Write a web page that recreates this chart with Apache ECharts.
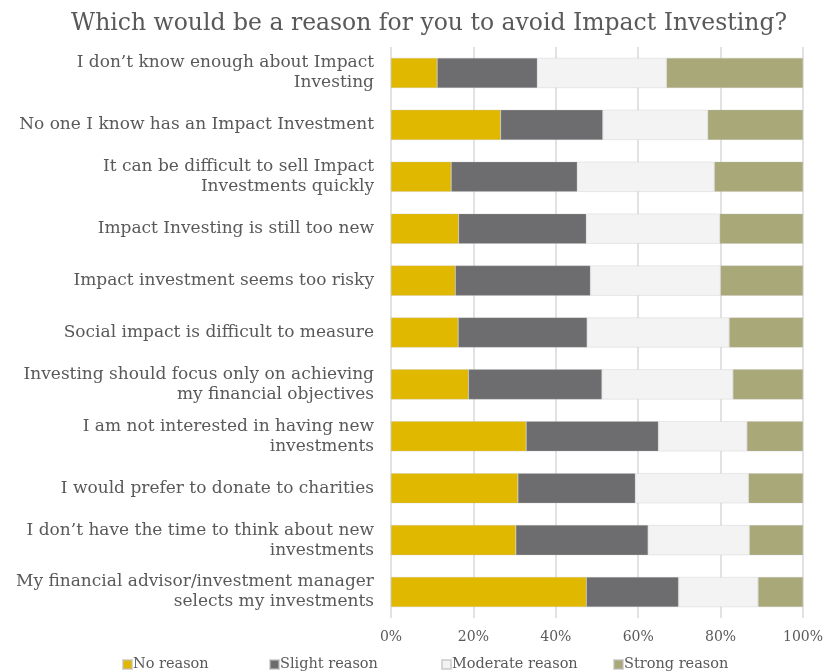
<!DOCTYPE html>
<html>
<head>
<meta charset="utf-8">
<script src="https://cdn.jsdelivr.net/npm/echarts@6/dist/echarts.min.js"></script>
<style>
  html, body { margin: 0; padding: 0; background: #ffffff; }
  #chart { width: 836px; height: 672px; }
</style>
</head>
<body>
<div id="chart"></div>
<script>
// Survey statements (top to bottom)
const categories = [
  'I don\u2019t know enough about Impact\nInvesting',
  'No one I know has an Impact Investment',
  'It can be difficult to sell Impact\nInvestments quickly',
  'Impact Investing is still too new',
  'Impact investment seems too risky',
  'Social impact is difficult to measure',
  'Investing should focus only on achieving\nmy financial objectives',
  'I am not interested in having new\ninvestments',
  'I would prefer to donate to charities',
  'I don\u2019t have the time to think about new\ninvestments',
  'My financial advisor/investment manager\nselects my investments'
];

// Share of respondents (%) per answer
const noReason       = [11.2, 26.6, 14.6, 16.4, 15.6, 16.3, 18.8, 32.8, 30.8, 30.3, 47.4];
const slightReason   = [24.3, 24.8, 30.6, 31.0, 32.8, 31.3, 32.4, 32.1, 28.5, 32.1, 22.4];
const moderateReason = [31.4, 25.5, 33.3, 32.4, 31.6, 34.5, 31.8, 21.5, 27.5, 24.6, 19.3];
const strongReason   = [33.1, 23.1, 21.5, 20.2, 20.0, 17.9, 17.0, 13.6, 13.2, 13.0, 10.9];

const seriesNames = ['No reason', 'Slight reason', 'Moderate reason', 'Strong reason'];
const seriesData = [noReason, slightReason, moderateReason, strongReason];
const colors = ['#E1B800', '#6D6D6F', '#F2F3F2', '#A9A878'];

const FONT = 'DejaVu Serif';
const TEXT = '#595959';

const chart = echarts.init(document.getElementById('chart'), null, { renderer: 'canvas' });

const legendLefts = [117, 264, 436, 608];

chart.setOption({
  animation: false,
  backgroundColor: '#ffffff',
  title: {
    text: 'Which would be a reason for you to avoid Impact Investing?',
    left: 66,
    top: 7,
    textStyle: { fontFamily: FONT, fontSize: 23.5, fontWeight: 'normal', color: TEXT }
  },
  legend: seriesNames.map((n, i) => ({
    data: [n],
    left: legendLefts[i],
    top: 652,
    itemWidth: 9,
    itemHeight: 9,
    itemGap: 0,
    icon: 'rect',
    textStyle: { fontFamily: FONT, fontSize: 14.5, color: TEXT, padding: [0, 0, 0, -4] }
  })),
  grid: { left: 391, right: 33, top: 47, bottom: 54, containLabel: false },
  xAxis: {
    type: 'value',
    min: 0,
    max: 100,
    interval: 20,
    axisLabel: {
      formatter: '{value}%',
      fontFamily: FONT, fontSize: 14, color: TEXT, margin: 12
    },
    axisLine: { show: false },
    axisTick: { show: false },
    splitLine: { show: true, lineStyle: { color: '#D9D9D9', width: 1.5 } }
  },
  yAxis: {
    type: 'category',
    inverse: true,
    data: categories,
    axisLine: { show: false },
    axisTick: { show: false },
    axisLabel: {
      fontFamily: FONT, fontSize: 17, color: TEXT, margin: 17, lineHeight: 20, align: 'right'
    }
  },
  series: seriesData.map((d, i) => ({
    name: seriesNames[i],
    type: 'bar',
    stack: 'total',
    data: d,
    barCategoryGap: '42%',
    itemStyle: { color: colors[i], borderColor: 'rgba(190,190,190,0.6)', borderWidth: 0.5 }
  }))
});
</script>
</body>
</html>
